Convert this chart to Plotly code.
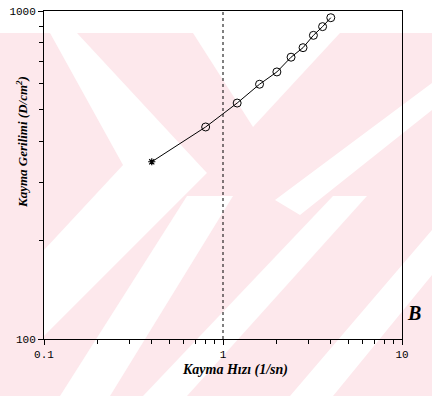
import plotly.graph_objects as go

# Data
shear_rate = [0.4, 0.8, 1.2, 1.6, 2.0, 2.4, 2.8, 3.2, 3.6, 4.0]
shear_stress = [347, 443, 524, 598, 652, 723, 773, 843, 896, 954]
x_ticks = [0.1, 1, 10]
x_tick_labels = ["0.1", "1", "10"]
y_ticks = [100, 1000]
y_tick_labels = ["100", "1000"]
x_minor = [0.2, 0.3, 0.4, 0.5, 0.6, 0.7, 0.8, 0.9, 2, 3, 4, 5, 6, 7, 8, 9]
y_minor = [200, 300, 400, 500, 600, 700, 800, 900]
ref_line_x = 1.0

W, H = 432, 396
L, R, T, B = 44, 30, 11, 57
PW, PH = W - L - R, H - T - B


def pp(x, y):
    return (x - L) / PW, (H - B - y) / PH


def poly(points):
    s = ""
    for i, (x, y) in enumerate(points):
        px, py = pp(x, y)
        s += ("M" if i == 0 else "L") + f"{px:.4f},{py:.4f} "
    return s + "Z"


fig = go.Figure()
fig.add_trace(go.Scatter(
    x=shear_rate, y=shear_stress, mode="lines", showlegend=False,
    line=dict(color="black", width=1)))
fig.add_trace(go.Scatter(
    x=shear_rate[:1], y=shear_stress[:1], mode="markers", showlegend=False,
    marker=dict(symbol="asterisk-open", size=6, color="black",
                line=dict(color="black", width=1.2))))
fig.add_trace(go.Scatter(
    x=shear_rate[1:], y=shear_stress[1:], mode="markers", showlegend=False,
    marker=dict(symbol="circle-open", size=8, color="black",
                line=dict(color="black", width=1))))

# faint background watermark (scan artefact)
pink = "#fde8ec"
shapes = [dict(type="path", xref="paper", yref="paper", layer="below", line=dict(width=0),
               fillcolor=pink, path=poly([(0, 33), (432, 33), (432, 396), (0, 396)]))]
white_polys = [
    [(50, 33), (77, 33), (207, 173), (44, 336), (44, 250), (123, 165)],
    [(193, 33), (340, 33), (253, 127)],
    [(432, 83), (432, 110), (300, 215), (275, 200)],
    [(187, 196), (233, 196), (110, 396), (60, 396)],
    [(333, 196), (367, 196), (187, 396), (143, 396)],
    [(432, 230), (432, 275), (333, 396), (290, 396)],
]
for pts in white_polys:
    shapes.append(dict(type="path", xref="paper", yref="paper", layer="below",
                       line=dict(width=0), fillcolor="white", path=poly(pts)))
shapes.append(dict(type="line", xref="x", yref="paper", x0=ref_line_x, x1=ref_line_x,
                   y0=0, y1=1, line=dict(color="black", width=1, dash="dot")))

mono = "Liberation Mono, Courier New, monospace"
serif = "Liberation Serif, Times New Roman, serif"

fig.update_xaxes(
    type="log", range=[-1, 1], tickvals=x_ticks, ticktext=x_tick_labels,
    ticks="outside", ticklen=5, tickwidth=1, tickcolor="black",
    minor=dict(tickvals=x_minor, ticks="outside", ticklen=4, tickcolor="black", showgrid=False),
    showline=True, linecolor="black", linewidth=1, mirror=True,
    showgrid=False, zeroline=False, automargin=False,
    tickfont=dict(family=mono, size=11, color="black"))
fig.update_yaxes(
    type="log", range=[2, 3], tickvals=y_ticks, ticktext=y_tick_labels,
    ticks="outside", ticklen=5, tickwidth=1, tickcolor="black",
    minor=dict(tickvals=y_minor, ticks="outside", ticklen=4, tickcolor="black", showgrid=False),
    showline=True, linecolor="black", linewidth=1, mirror=True,
    showgrid=False, zeroline=False, automargin=False,
    tickfont=dict(family=mono, size=11, color="black"))

fig.add_annotation(text="<b><i>Kayma Hızı (1/sn)</i></b>", xref="paper", yref="paper",
                   x=pp(235, 0)[0], y=pp(0, 380)[1], showarrow=False,
                   font=dict(family=serif, size=14, color="black"))
fig.add_annotation(text="<b><i>Kayma Gerilimi (D/cm<sup>2</sup>)</i></b>", xref="paper", yref="paper",
                   x=pp(12, 0)[0], y=pp(0, 142)[1], showarrow=False, textangle=-90,
                   font=dict(family=serif, size=13, color="black"))
fig.add_annotation(text="<b><i>B</i></b>", xref="paper", yref="paper",
                   x=pp(423, 0)[0], y=pp(0, 326)[1], showarrow=False,
                   font=dict(family=serif, size=20, color="black"))

fig.update_layout(
    width=W, height=H,
    margin=dict(l=L, r=R, t=T, b=B),
    plot_bgcolor="rgba(0,0,0,0)", paper_bgcolor="white",
    shapes=shapes,
)

fig.write_html("out.html")
